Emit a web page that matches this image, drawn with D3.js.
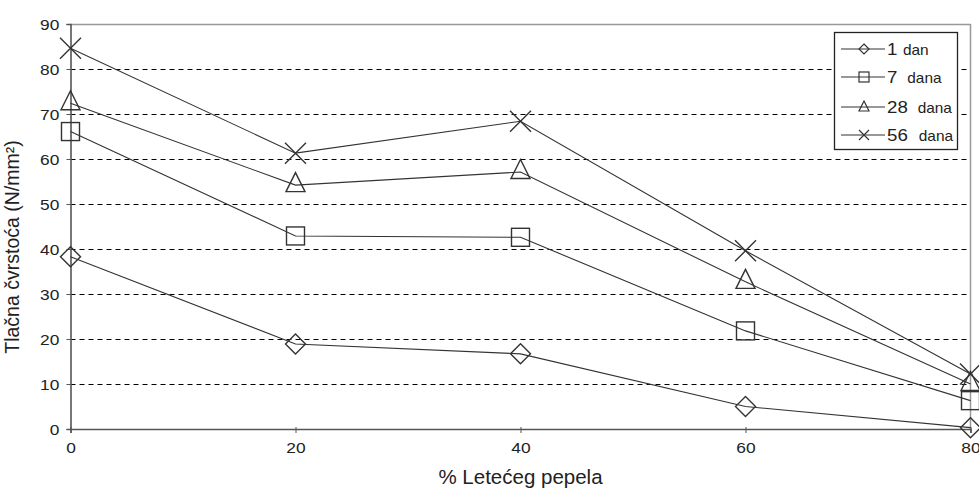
<!DOCTYPE html>
<html><head><meta charset="utf-8">
<script src="https://cdn.jsdelivr.net/npm/d3@7"></script>
<style>body{margin:0;background:#fff}svg{display:block}text{font-family:"Liberation Sans",Arial,sans-serif;fill:#222}</style>
</head><body><svg id="c" width="979" height="488"></svg>
<script>
const xValues = [0, 20, 40, 60, 80];
const seriesNames = ["1", "7", "28", "56"];
const seriesUnits = ["dan", "dana", "dana", "dana"];
const seriesSymbols = ["diamond", "square", "triangle", "cross"];
const dan1 = [38.3, 18.9, 16.7, 5.0, 0.3];
const dana7 = [66.1, 42.9, 42.6, 21.8, 6.3];
const dana28 = [72.4, 54.2, 57.1, 32.7, 10.0];
const dana56 = [84.6, 61.3, 68.4, 39.6, 12.2];
const yTicks = [0, 10, 20, 30, 40, 50, 60, 70, 80, 90];
const xTicks = [0, 20, 40, 60, 80];
const xTitle = "% Letećeg pepela";
const yTitle = "Tlačna čvrstoća (N/mm²)";

const series = [dan1, dana7, dana28, dana56];
const svg = d3.select("#c");
const x = d3.scaleLinear().domain([0, 80]).range([70.5, 970.5]);
const y = d3.scaleLinear().domain([0, 90]).range([429, 24]);
const ink = "#333";

// grid
svg.append("g").selectAll("line").data(yTicks.filter(t => t > 0 && t < 90)).join("line")
  .attr("x1", x(0)).attr("x2", x(80)).attr("y1", d => Math.round(y(d)) + 0.5).attr("y2", d => Math.round(y(d)) + 0.5)
  .attr("stroke", "#000").attr("stroke-width", 1).attr("stroke-dasharray", "5,4");
// frame top/right
svg.append("line").attr("x1", x(0)).attr("x2", x(80)).attr("y1", y(90) + 0.5).attr("y2", y(90) + 0.5).attr("stroke", "#999").attr("stroke-width", 1.5);
svg.append("line").attr("x1", x(80)).attr("x2", x(80)).attr("y1", y(90)).attr("y2", y(0)).attr("stroke", "#999").attr("stroke-width", 1.5);

// axes
const yAxis = svg.append("g").attr("transform", `translate(${x(0)},0)`)
  .call(d3.axisLeft(y).tickValues(yTicks).tickSize(4).tickPadding(7));
const xAxis = svg.append("g").attr("transform", `translate(0,${y(0)})`)
  .call(d3.axisBottom(x).tickValues(xTicks).tickSize(4).tickPadding(9));
[yAxis, xAxis].forEach(a => {
  a.select(".domain").attr("stroke", "#555").attr("stroke-width", 1.6);
  a.selectAll(".tick line").attr("stroke", "#555");
  a.selectAll("text").attr("font-size", 15.5).attr("fill", "#222").attr("font-family", "Liberation Sans, Arial, sans-serif");
});
xAxis.selectAll(".tick line").attr("y1", -2);
xAxis.selectAll(".tick text").attr("transform", "scale(1.12,1)");
yAxis.selectAll(".tick text").attr("x", -10).attr("transform", "scale(1.12,1)").attr("dy", "0.36em");

// titles
svg.append("text").attr("x", x(40)).attr("y", 484).attr("text-anchor", "middle").attr("font-size", 20.5).text(xTitle);
svg.append("text").attr("transform", `translate(19,247) rotate(-90)`).attr("text-anchor", "middle").attr("font-size", 19.5).text(yTitle);

function marker(g, type, cx, cy, s) {
  const h = s / 2;
  if (type === "diamond") g.append("path").attr("d", `M${cx},${cy - h}L${cx + h},${cy}L${cx},${cy + h}L${cx - h},${cy}Z`);
  else if (type === "square") g.append("rect").attr("x", cx - h).attr("y", cy - h).attr("width", s).attr("height", s);
  else if (type === "triangle") g.append("path").attr("d", `M${cx},${cy - h}L${cx + h},${cy + h}L${cx - h},${cy + h}Z`);
  else g.append("path").attr("d", `M${cx - h},${cy - h}L${cx + h},${cy + h}M${cx + h},${cy - h}L${cx - h},${cy + h}`);
}

const line = d3.line().x((d, i) => x(xValues[i])).y(d => y(d));
series.forEach((vals, si) => {
  svg.append("path").attr("d", line(vals)).attr("fill", "none").attr("stroke", ink).attr("stroke-width", 1.1);
  const g = svg.append("g").attr("fill", "none").attr("stroke", ink).attr("stroke-width", 1.4);
  vals.forEach((v, i) => {
    const s = seriesSymbols[si];
    const sz = s === "triangle" ? 19 : (s === "cross" ? 21 : (s === "diamond" ? 20 : 18));
    marker(g, s, x(xValues[i]), y(v) + (s === "triangle" ? -3 : 0), sz);
  });
});

// legend
const lg = svg.append("g");
lg.append("rect").attr("x", 834.5).attr("y", 32.5).attr("width", 123).attr("height", 117)
  .attr("fill", "#fff").attr("stroke", "#222").attr("stroke-width", 1.3);
const rowY = [49, 77, 107, 135];
const unitGap = [5, 9, 9, 10];
seriesNames.forEach((n, i) => {
  const cy = rowY[i];
  lg.append("line").attr("x1", 841).attr("x2", 885).attr("y1", cy).attr("y2", cy).attr("stroke", ink).attr("stroke-width", 1.2);
  const g = lg.append("g").attr("fill", "none").attr("stroke", ink).attr("stroke-width", 1.2);
  marker(g, seriesSymbols[i], 864, cy + (seriesSymbols[i] === "triangle" ? -1 : 0), 10);
  const t = lg.append("text").attr("transform", `translate(887,${cy + 6}) scale(1.1,1)`);
  t.append("tspan").attr("font-size", 17).text(n);
  t.append("tspan").attr("font-size", 14).attr("dx", unitGap[i]).text(seriesUnits[i]);
});
</script></body></html>
